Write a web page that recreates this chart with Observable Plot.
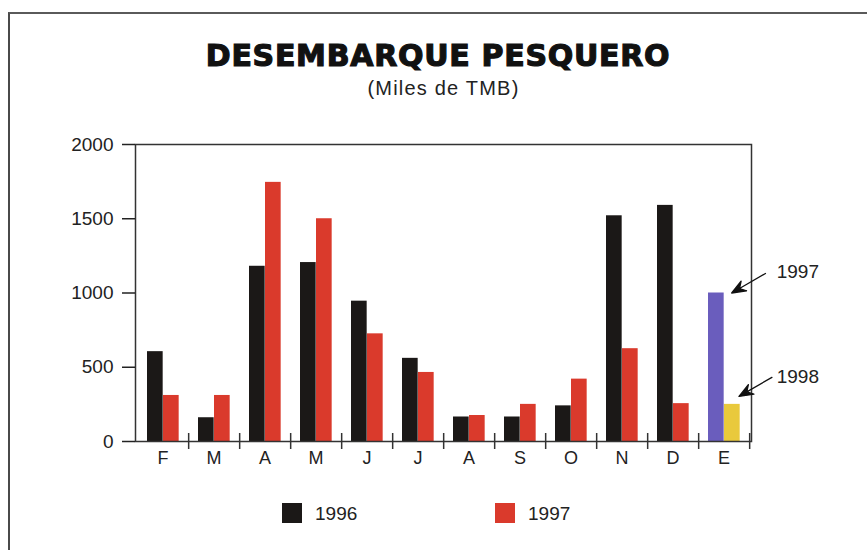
<!DOCTYPE html>
<html>
<head>
<meta charset="utf-8">
<script src="https://cdn.jsdelivr.net/npm/d3@7"></script>
<script src="https://cdn.jsdelivr.net/npm/@observablehq/plot@0.6"></script>
<style>
  html, body { margin: 0; padding: 0; background: #fff; }
  #page { position: relative; width: 867px; height: 550px; overflow: hidden; font-family: "Liberation Sans", Arial, sans-serif; color: #1a1a1a; }
  #border { position: absolute; left: 8px; top: 12px; right: -10px; bottom: -10px; border-top: 2px solid #5a5a5a; border-left: 2px solid #4a4a4a; }
  .title { position: absolute; left: 0; width: 876px; top: 41px; text-align: center; font-family: "DejaVu Sans", sans-serif; font-weight: bold; font-size: 30px; line-height: 1; letter-spacing: 0.7px; -webkit-text-stroke: 1.2px #111; color: #111; }
  .subtitle { position: absolute; left: 0; width: 887px; top: 78px; text-align: center; font-size: 20px; line-height: 1; letter-spacing: 1.2px; color: #222; }
  #chart { position: absolute; left: 0; top: 100px; }
  .sw { position: absolute; width: 20px; height: 20px; top: 503px; }
  .lt { position: absolute; top: 504px; font-size: 19px; line-height: 1; color: #222; }
</style>
</head>
<body>
<div id="page">
  <div id="border"></div>
  <div class="title">DESEMBARQUE PESQUERO</div>
  <div class="subtitle">(Miles de TMB)</div>
  <div id="chart"></div>
  <div id="legend"></div>
</div>
<script>
// Categories (month keys and their printed labels)
const months = ["Feb","Mar","Apr","May","Jun","Jul","Aug","Sep","Oct","Nov","Dec","Jan"];
const monthLabels = ["F","M","A","M","J","J","A","S","O","N","D","E"];

// Series values (miles de TMB)
// first bar of each month: Feb–Dec 1996 (black), Jan = enero 1997 (blue)
const firstBars  = [605, 160, 1180, 1205, 945, 560, 165, 165, 240, 1520, 1590, 1000];
// second bar of each month: Feb–Dec 1997 (red), Jan = enero 1998 (yellow)
const secondBars = [310, 310, 1745, 1500, 725, 465, 175, 250, 420, 625, 255, 250];

const yTicks = [0, 500, 1000, 1500, 2000];
const legendLabels = ["1996", "1997"];
const noteLabels = ["1997", "1998"];

const colBlack = "#1b1817", colRed = "#da3a2c", colBlue = "#6a5dbd", colYellow = "#e9c93c";

const rows = months.map((m, i) => ({month: m, first: firstBars[i], second: secondBars[i]}));
const labelOf = new Map(months.map((m, i) => [m, monthLabels[i]]));
const noteA = [{month: "Jan", value: firstBars[11], label: noteLabels[0]}];
const noteB = [{month: "Jan", value: secondBars[11], label: noteLabels[1]}];

const arrowShape = {
  draw(context, l) {
    context.moveTo(0, 0);
    context.lineTo(0, -l + 9);
    context.moveTo(0, -l);
    context.lineTo(-5.5, -l + 14);
    context.lineTo(0, -l + 9);
    context.lineTo(5.5, -l + 14);
    context.closePath();
  }
};

const chart = Plot.plot({
  width: 867,
  height: 380,
  marginTop: 44,
  marginBottom: 39,
  marginLeft: 135,
  marginRight: 116,
  x: {domain: months, padding: 0, axis: null},
  y: {domain: [0, 2000], axis: null},
  style: {fontFamily: "Liberation Sans, Arial, sans-serif", background: "transparent", color: "#222"},
  marks: [
    Plot.barY(rows, {x: "month", y: "first", fill: d => d.month === "Jan" ? colBlue : colBlack, insetLeft: 10, insetRight: 25.33}),
    Plot.barY(rows, {x: "month", y: "second", fill: d => d.month === "Jan" ? colYellow : colRed, insetLeft: 26, insetRight: 9.33}),
    Plot.frame({stroke: "#333", strokeWidth: 1.5}),
    Plot.axisY({ticks: yTicks, tickSize: 13, tickPadding: 9, fontSize: 19, label: null, color: "#222", strokeWidth: 1.5, tickFormat: d => String(d)}),
    Plot.axisX({tickSize: 0, tickPadding: 10, fontSize: 18, label: null, color: "#222", tickFormat: d => labelOf.get(d)}),
    Plot.ruleX(months, {x: d => d, dx: 25.667, y1: 0, y2: 0, insetTop: -8, insetBottom: -8, stroke: "#333", strokeWidth: 1.5}),
    Plot.vector(noteA, {x: "month", y: "value", dx: 7.7, dy: 0, length: 39, rotate: 240, anchor: "end", shape: arrowShape, stroke: "#111", fill: "#111", strokeWidth: 1.3}),
    Plot.vector(noteB, {x: "month", y: "value", dx: 15, dy: -8, length: 38, rotate: 240, anchor: "end", shape: arrowShape, stroke: "#111", fill: "#111", strokeWidth: 1.3}),
    Plot.text(noteA, {x: "month", y: "value", text: "label", dx: 52.7, dy: -21, textAnchor: "start", fontSize: 19, fill: "#222"}),
    Plot.text(noteB, {x: "month", y: "value", text: "label", dx: 52.7, dy: -27, textAnchor: "start", fontSize: 19, fill: "#222"})
  ]
});
document.getElementById("chart").appendChild(chart);

// Legend
const legend = document.getElementById("legend");
const legendItems = [
  {label: legendLabels[0], color: colBlack, left: 282},
  {label: legendLabels[1], color: colRed, left: 495}
];
for (const it of legendItems) {
  const sw = document.createElement("div");
  sw.className = "sw";
  sw.style.left = it.left + "px";
  sw.style.background = it.color;
  legend.appendChild(sw);
  const t = document.createElement("div");
  t.className = "lt";
  t.style.left = (it.left + 33) + "px";
  t.textContent = it.label;
  legend.appendChild(t);
}
</script>
</body>
</html>
